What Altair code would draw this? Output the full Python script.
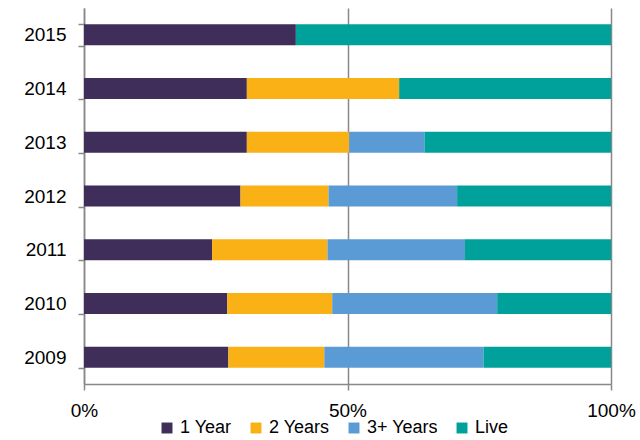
import altair as alt
import pandas as pd

years = ["2015", "2014", "2013", "2012", "2011", "2010", "2009"]
series = ["1 Year", "2 Years", "3+ Years", "Live"]
one_year = [40.2, 30.9, 30.9, 29.7, 24.3, 27.2, 27.4]
two_years = [0.0, 28.9, 19.4, 16.7, 21.9, 19.9, 18.2]
three_plus = [0.0, 0.0, 14.3, 24.4, 26.1, 31.3, 30.2]
live = [59.8, 40.2, 35.4, 29.2, 27.7, 21.6, 24.2]
colors = ["#3F2D5A", "#F9B116", "#5B9BD5", "#00A19A"]

rows = []
for i, y in enumerate(years):
    for k, (s, vals) in enumerate(zip(series, [one_year, two_years, three_plus, live])):
        rows.append({"year": y, "series": s, "value": vals[i], "order": k})
df = pd.DataFrame(rows)

FONT = "Liberation Sans"

chart = alt.Chart(df).mark_bar(size=21).encode(
    y=alt.Y("year:N", sort=years, title=None,
            scale=alt.Scale(paddingInner=0.6, paddingOuter=0.3),
            axis=alt.Axis(tickBand="extent", tickSize=6, labelPadding=12, domainColor="#888888",
                          tickColor="#888888", labelFontSize=19, labelFont=FONT,
                          labelFontWeight="normal",
                          labelColor="#000000", grid=False, domainWidth=1.5, tickWidth=1.5)),
    x=alt.X("value:Q", stack="normalize", title=None,
            scale=alt.Scale(domain=[0, 1], nice=False),
            axis=alt.Axis(values=[0, 0.5, 1], format="%", tickSize=6, labelPadding=11,
                          domainColor="#888888", tickColor="#888888", gridColor="#888888",
                          grid=True, gridWidth=1.5, domainWidth=1.5, tickWidth=1.5,
                          labelFontSize=19, labelFont=FONT, labelColor="#000000",
                          labelFlush=False)),
    color=alt.Color("series:N", sort=series,
                    scale=alt.Scale(domain=series, range=colors),
                    legend=alt.Legend(title=None, orient="none", legendX=74, legendY=411,
                                      direction="horizontal", symbolType="square",
                                      symbolSize=120, symbolStrokeWidth=0,
                                      labelFontSize=18, labelFont=FONT,
                                      labelColor="#000000", columnPadding=15, labelOffset=4)),
    order=alt.Order("order:Q"),
).properties(
    width=527, height=376,
    autosize=alt.AutoSizeParams(type="none"),
    padding={"left": 84, "top": 8, "right": 29, "bottom": 56},
).configure_view(stroke=None)

chart.save("out.html", embed_options={"renderer": "svg", "actions": False})
